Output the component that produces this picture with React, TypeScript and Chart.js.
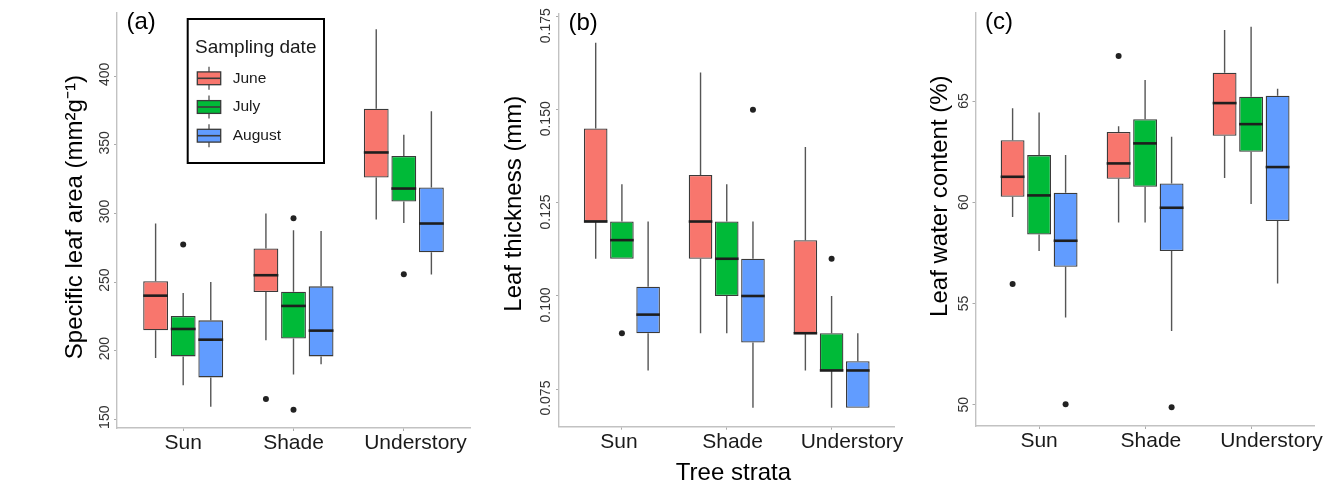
import React, { useEffect, useRef } from 'react';
import { Chart, registerables } from 'chart.js';

Chart.register(...registerables);

const W = 1333;
const H = 488;
const FONT = '"Liberation Sans", Arial, Helvetica, sans-serif';

// ---------- data ----------
const categories = ['Sun', 'Shade', 'Understory'];
const months = ['June', 'July', 'August'];
const monthColors = ['#F8766D', '#00BA38', '#619CFF'];
const legendTitle = 'Sampling date';

// each entry: [lower whisker, Q1, median, Q3, upper whisker] for Sun, Shade, Understory
// (a) Specific leaf area
const slaJune = [[194.6, 214.8, 240.1, 250.6, 292.7], [207.5, 242.8, 255.0, 274.5, 300.0], [295.6, 326.3, 344.5, 376.4, 434.3]];
const slaJuly = [[174.7, 195.8, 215.8, 225.3, 242.0], [182.7, 208.8, 232.6, 243.0, 287.8], [293.1, 308.8, 318.2, 342.0, 357.4]];
const slaAugust = [[159.1, 180.5, 208.0, 222.1, 250.1], [190.0, 195.8, 214.6, 246.9, 287.3], [255.5, 271.8, 292.7, 319.0, 374.5]];
const slaJuneOut = [[], [164.7], []];
const slaJulyOut = [[277.4], [296.6, 156.9], [255.7]];
const slaAugustOut = [[], [], []];
const slaTicks = [150, 200, 250, 300, 350, 400];

// (b) Leaf thickness
const thkJune = [[0.110, 0.120, 0.120, 0.145, 0.168], [0.090, 0.110, 0.120, 0.1325, 0.160], [0.080, 0.090, 0.090, 0.115, 0.140]];
const thkJuly = [[0.110, 0.110, 0.115, 0.120, 0.130], [0.090, 0.100, 0.110, 0.120, 0.130], [0.070, 0.080, 0.080, 0.090, 0.100]];
const thkAugust = [[0.080, 0.090, 0.095, 0.1025, 0.120], [0.070, 0.0875, 0.100, 0.110, 0.120], [0.070, 0.070, 0.080, 0.0825, 0.090]];
const thkJuneOut = [[], [], []];
const thkJulyOut = [[0.090], [], [0.110]];
const thkAugustOut = [[], [0.150], []];
const thkTicks = [0.075, 0.100, 0.125, 0.150, 0.175];

// (c) Leaf water content
const lwcJune = [[59.27, 60.27, 61.26, 63.07, 64.64], [59.0, 61.16, 61.92, 63.47, 63.76], [61.2, 63.29, 64.9, 66.4, 68.51]];
const lwcJuly = [[57.6, 58.41, 60.34, 62.33, 64.44], [59.0, 60.77, 62.91, 64.1, 66.04], [59.91, 62.5, 63.86, 65.21, 68.67]];
const lwcAugust = [[54.31, 56.81, 58.10, 60.47, 62.33], [53.64, 57.59, 59.73, 60.93, 63.24], [55.99, 59.07, 61.74, 65.26, 65.61]];
const lwcJuneOut = [[55.96], [67.22], []];
const lwcJulyOut = [[], [], []];
const lwcAugustOut = [[50.03], [49.87], []];
const lwcTicks = [50, 55, 60, 65];

// ---------- styles ----------
const BOX_BORDER = '#3a3a3a';
const WHISKER = '#555555';
const MEDIAN = '#1e1e1e';
const AXIS_COLOR = '#c2c2c2';
const TICK_COLOR = '#aaaaaa';

const panels = [
  {
    tag: '(a)', yTitle: 'Specific leaf area (mm²g⁻¹)', titleShift: 1, xTitle: '', xTitleShift: 0,
    stats: [slaJune, slaJuly, slaAugust], outliers: [slaJuneOut, slaJulyOut, slaAugustOut],
    yTicks: slaTicks, yMin: 143.6, yMax: 446.2, decimals: 0, xLabelSpaces: [0, 0, 4],
    padLeft: 60.6, left: 117, right: 470, top: 13, bottom: 428, tickPad: -2.4, labelOffset: -2, legend: true,
  },
  {
    tag: '(b)', yTitle: 'Leaf thickness (mm)', titleShift: 5, xTitle: 'Tree strata', xTitleShift: 2,
    stats: [thkJune, thkJuly, thkAugust], outliers: [thkJuneOut, thkJulyOut, thkAugustOut],
    yTicks: thkTicks, yMin: 0.0649, yMax: 0.17573, decimals: 3, xLabelSpaces: [-1, 2, 7],
    padLeft: 499.6, left: 559, right: 894.5, top: 14, bottom: 426.7, tickPad: -7.7, labelOffset: 9, legend: false,
  },
  {
    tag: '(c)', yTitle: 'Leaf water content (%)', titleShift: 7, xTitle: '', xTitleShift: 0,
    stats: [lwcJune, lwcJuly, lwcAugust], outliers: [lwcJuneOut, lwcJulyOut, lwcAugustOut],
    yTicks: lwcTicks, yMin: 48.95, yMax: 69.35, decimals: 0, xLabelSpaces: [0, 2, 7],
    padLeft: 926, left: 975.5, right: 1314.7, top: 13, bottom: 426, tickPad: 0.9, labelOffset: 0, legend: false,
  },
];

// ---------- plugins ----------
const boxPlugin = {
  id: 'boxExtras',
  beforeDatasetsDraw(chart: any) {
    const ctx = chart.ctx;
    const ys = chart.scales.y;
    chart.data.datasets.forEach((ds: any, di: number) => {
      const meta = chart.getDatasetMeta(di);
      meta.data.forEach((bar: any, j: number) => {
        const s = ds.stats[j];
        ctx.save();
        ctx.strokeStyle = WHISKER;
        ctx.lineWidth = 1.4;
        ctx.beginPath();
        ctx.moveTo(bar.x, ys.getPixelForValue(s[3]));
        ctx.lineTo(bar.x, ys.getPixelForValue(s[4]));
        ctx.moveTo(bar.x, ys.getPixelForValue(s[1]));
        ctx.lineTo(bar.x, ys.getPixelForValue(s[0]));
        ctx.stroke();
        ctx.restore();
      });
    });
  },
  afterDatasetsDraw(chart: any) {
    const ctx = chart.ctx;
    const ys = chart.scales.y;
    chart.data.datasets.forEach((ds: any, di: number) => {
      const meta = chart.getDatasetMeta(di);
      meta.data.forEach((bar: any, j: number) => {
        const s = ds.stats[j];
        const half = bar.width / 2;
        const my = ys.getPixelForValue(s[2]);
        ctx.save();
        ctx.strokeStyle = MEDIAN;
        ctx.lineWidth = 2.6;
        ctx.beginPath();
        ctx.moveTo(bar.x - half, my);
        ctx.lineTo(bar.x + half, my);
        ctx.stroke();
        ctx.fillStyle = '#222222';
        (ds.outliers[j] || []).forEach((v: number) => {
          ctx.beginPath();
          ctx.arc(bar.x, ys.getPixelForValue(v), 3, 0, Math.PI * 2);
          ctx.fill();
        });
        ctx.restore();
      });
    });
  },
};

const tagPlugin = {
  id: 'panelTag',
  afterDraw(chart: any, _args: any, opts: any) {
    const ctx = chart.ctx;
    const a = chart.chartArea;
    ctx.save();
    ctx.fillStyle = '#000';
    ctx.font = `24px ${FONT}`;
    ctx.textAlign = 'left';
    ctx.textBaseline = 'alphabetic';
    ctx.fillText(opts.text, a.left + 9.5, a.top + 16);
    ctx.restore();
  },
};

const legendPlugin = {
  id: 'boxLegend',
  afterDraw(chart: any) {
    const ctx = chart.ctx;
    const a = chart.chartArea;
    const L = a.left + 70.7;
    const T = a.top + 6;
    ctx.save();
    ctx.fillStyle = '#ffffff';
    ctx.fillRect(L, T, 136.3, 144);
    ctx.strokeStyle = '#000';
    ctx.lineWidth = 2;
    ctx.strokeRect(L, T, 136.3, 144);
    ctx.fillStyle = '#1a1a1a';
    ctx.font = `19px ${FONT}`;
    ctx.textAlign = 'left';
    ctx.textBaseline = 'middle';
    ctx.fillText(legendTitle, L + 7.3, T + 28.5);
    chart.data.datasets.forEach((ds: any, i: number) => {
      const cy = T + 59.3 + i * 28.7;
      const cx = L + 21.3;
      ctx.strokeStyle = '#444';
      ctx.lineWidth = 1.2;
      ctx.beginPath();
      ctx.moveTo(cx, cy - 11.5);
      ctx.lineTo(cx, cy + 11.5);
      ctx.stroke();
      ctx.fillStyle = ds.backgroundColor;
      ctx.fillRect(cx - 11.7, cy - 6.4, 23.4, 12.8);
      ctx.strokeStyle = '#3a3a3a';
      ctx.lineWidth = 1.3;
      ctx.strokeRect(cx - 11.7, cy - 6.4, 23.4, 12.8);
      ctx.lineWidth = 1.6;
      ctx.beginPath();
      ctx.moveTo(cx - 11.7, cy);
      ctx.lineTo(cx + 11.7, cy);
      ctx.stroke();
      ctx.fillStyle = '#1a1a1a';
      ctx.font = `15.5px ${FONT}`;
      ctx.fillText(ds.label, L + 45, cy);
    });
    ctx.restore();
  },
};

function padLabel(text: string, n: number) {
  return n >= 0 ? ' '.repeat(n) + text : text + ' '.repeat(-n);
}

function makeConfig(p: any) {
  return {
    type: 'bar',
    data: {
      datasets: months.map((m, mi) => ({
        label: m,
        data: categories.map((_c, ci) => ({ x: ci + 1, y: [p.stats[mi][ci][1], p.stats[mi][ci][3]] })),
        stats: p.stats[mi],
        outliers: p.outliers[mi],
        backgroundColor: monthColors[mi],
        borderColor: BOX_BORDER,
        borderWidth: 1.3,
        borderSkipped: false,
        categoryPercentage: 0.75,
        barPercentage: 0.9,
      })),
    },
    options: {
      responsive: false,
      animation: false,
      events: [],
      layout: { padding: { left: p.padLeft, right: W - p.right, top: p.top, bottom: 0 } },
      plugins: {
        legend: { display: false },
        tooltip: { enabled: false },
        panelTag: { text: p.tag },
      },
      scales: {
        x: {
          type: 'linear',
          min: 0.4,
          max: 3.6,
          offset: false,
          afterBuildTicks: (s: any) => { s.ticks = categories.map((_c, i) => ({ value: i + 1 })); },
          afterFit: (s: any) => { s.height = H - p.bottom; },
          ticks: {
            autoSkip: false, minRotation: 0, maxRotation: 0, padding: 0, color: '#1a1a1a',
            font: { size: 21, family: FONT },
            callback: (v: any) => {
              const i = Math.round(Number(v)) - 1;
              return categories[i] ? padLabel(categories[i], p.xLabelSpaces[i]) : '';
            },
          },
          grid: { display: true, drawOnChartArea: false, drawTicks: true, tickLength: 3, color: TICK_COLOR, offset: false },
          border: { display: true, color: AXIS_COLOR, width: 1.4 },
          title: p.xTitle
            ? { display: true, text: ' '.repeat(p.xTitleShift) + p.xTitle, color: '#000', font: { size: 24, family: FONT }, padding: 0 }
            : { display: false },
        },
        y: {
          type: 'linear',
          min: p.yMin,
          max: p.yMax,
          beginAtZero: false,
          afterBuildTicks: (s: any) => { s.ticks = p.yTicks.map((v: number) => ({ value: v })); },
          afterFit: (s: any) => { s.width = p.left - p.padLeft; },
          ticks: {
            autoSkip: false, minRotation: 90, maxRotation: 90, crossAlign: 'center',
            padding: p.tickPad, labelOffset: p.labelOffset, color: '#333333',
            font: { size: 14, family: FONT },
            callback: (v: any) => Number(v).toFixed(p.decimals),
          },
          grid: { display: true, drawOnChartArea: false, drawTicks: true, tickLength: 3, color: TICK_COLOR },
          border: { display: true, color: AXIS_COLOR, width: 1.4 },
          title: { display: true, text: ' '.repeat(p.titleShift) + p.yTitle, color: '#000', font: { size: 24, family: FONT }, padding: 0 },
        },
      },
    },
    plugins: p.legend ? [boxPlugin, tagPlugin, legendPlugin] : [boxPlugin, tagPlugin],
  };
}

export default function App() {
  const refs = useRef<(HTMLCanvasElement | null)[]>([]);

  useEffect(() => {
    const charts = panels.map((p, i) => new Chart(refs.current[i] as HTMLCanvasElement, makeConfig(p) as any));
    return () => charts.forEach((c) => c.destroy());
  }, []);

  return (
    <div style={{ position: 'absolute', left: 0, top: 0, width: W, height: H, background: '#ffffff', overflow: 'hidden' }}>
      {panels.map((p, i) => (
        <canvas
          key={p.tag}
          ref={(el) => { refs.current[i] = el; }}
          width={W}
          height={H}
          style={{ position: 'absolute', left: 0, top: 0, width: W, height: H }}
        />
      ))}
    </div>
  );
}
